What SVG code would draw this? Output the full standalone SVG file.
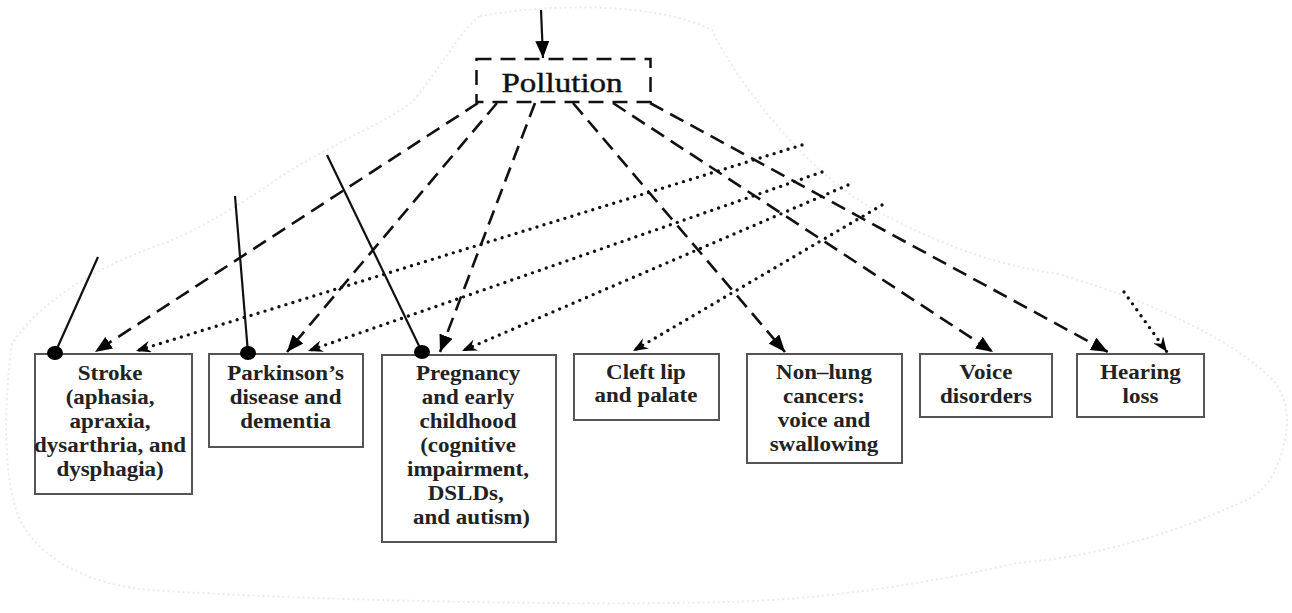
<svg xmlns="http://www.w3.org/2000/svg" width="1292" height="613" viewBox="0 0 1292 613">
<style>
.bg{fill:#fff}
.cloud{fill:none;stroke:#ebebeb;stroke-width:2;stroke-dasharray:2 3}
.box{fill:#fff;stroke:#555;stroke-width:2}
.pbox{fill:#fff;stroke:#111;stroke-width:2.5;stroke-dasharray:15 9}
.lbl{font-family:"Liberation Serif","Times New Roman",serif;font-size:20px;font-weight:bold;fill:#222;text-anchor:middle}
.plbl{font-family:"Liberation Serif","Times New Roman",serif;font-size:28px;fill:#111;stroke:#111;stroke-width:0.4;text-anchor:middle}
.dash{fill:none;stroke:#111;stroke-width:2.6;stroke-dasharray:15 8;marker-end:url(#tri)}
.dot{fill:none;stroke:#111;stroke-width:3.4;stroke-linecap:round;stroke-dasharray:0 7.3;marker-end:url(#barb)}
.solid{fill:none;stroke:#111;stroke-width:2.2}
.dotend{fill:#000}
</style>
<defs>
<marker id="tri" markerUnits="userSpaceOnUse" viewBox="0 0 17 14" refX="17" refY="7" markerWidth="17" markerHeight="14" orient="auto">
<path d="M0,0 L17,7 L0,14 Z" fill="#000"/>
</marker>
<marker id="barb" markerUnits="userSpaceOnUse" viewBox="0 0 15 12" refX="15" refY="6" markerWidth="15" markerHeight="12" orient="auto">
<path d="M0,0 L15,6 L0,12 L5,6 Z" fill="#000"/>
</marker>
</defs>
<rect class="bg" x="0" y="0" width="1292" height="613"/>
<path class="cloud" d="M480,16 C560,2 660,4 712,30 C730,70 800,170 877,211 C950,250 1000,265 1058,274 C1150,300 1230,340 1264,372 C1295,395 1292,440 1270,480 C1255,500 1243,501 1200,520 C1120,550 1060,560 1017,563 C900,590 800,600 728,602 C560,606 300,600 150,590 C90,585 40,560 20,520 C2,480 4,400 12,344 C40,300 100,265 165,243 C220,220 260,190 288,172 C340,140 390,120 412,102 C440,70 460,30 480,16 Z"/>
<g id="connectors">
<line class="solid" x1="541" y1="10" x2="543" y2="58" marker-end="url(#tri)"/>
<line class="dot" x1="802" y1="145" x2="136" y2="351"/>
<line class="dot" x1="822" y1="172" x2="308" y2="351"/>
<line class="dot" x1="848" y1="185" x2="462" y2="351"/>
<line class="dot" x1="882" y1="205" x2="633" y2="351"/>
<line class="dot" x1="1124" y1="292" x2="1167" y2="352"/>
<line class="dash" x1="478" y1="103" x2="95" y2="352"/>
<line class="dash" x1="497" y1="103" x2="287" y2="352"/>
<line class="dash" x1="535" y1="103" x2="440" y2="352"/>
<line class="dash" x1="573" y1="103" x2="785" y2="352"/>
<line class="dash" x1="613" y1="103" x2="993" y2="352"/>
<line class="dash" x1="650" y1="103" x2="1108" y2="352"/>
<line class="solid" x1="98" y1="257" x2="55" y2="353"/>
<line class="solid" x1="235" y1="196" x2="248" y2="353"/>
<line class="solid" x1="327" y1="155" x2="422" y2="352"/>
</g>
<g id="pollution">
<rect class="pbox" x="476.5" y="59" width="174" height="43"/>
<g transform="scale(1.18,1)"><text class="plbl" x="476.3" y="92">Pollution</text></g>
</g>
<g id="stroke">
<rect class="box" x="35" y="354" width="157" height="140"/>
<g transform="scale(1.15,1)"><text class="lbl" y="380"><tspan x="95.7">Stroke</tspan><tspan x="95.7" y="404">(aphasia,</tspan><tspan x="95.7" y="428">apraxia,</tspan><tspan x="95.7" y="452">dysarthria, and</tspan><tspan x="95.7" y="476">dysphagia)</tspan></text></g>
</g>
<g id="parkinsons">
<rect class="box" x="209" y="354" width="154" height="93"/>
<g transform="scale(1.15,1)"><text class="lbl" y="380"><tspan x="248.3">Parkinson’s</tspan><tspan x="248.3" y="404">disease and</tspan><tspan x="248.3" y="428">dementia</tspan></text></g>
</g>
<g id="pregnancy">
<rect class="box" x="382" y="355" width="174" height="187"/>
<g transform="scale(1.15,1)"><text class="lbl" y="380"><tspan x="407">Pregnancy</tspan><tspan x="407" y="404">and early</tspan><tspan x="407" y="428">childhood</tspan><tspan x="407" y="452">(cognitive</tspan><tspan x="407" y="476">impairment,</tspan><tspan x="405" y="500">DSLDs,</tspan><tspan x="410" y="524">and autism)</tspan></text></g>
</g>
<g id="cleft">
<rect class="box" x="574" y="354" width="145" height="66"/>
<g transform="scale(1.15,1)"><text class="lbl" y="379"><tspan x="561.7">Cleft lip</tspan><tspan x="561.7" y="402">and palate</tspan></text></g>
</g>
<g id="nonlung">
<rect class="box" x="747" y="354" width="155" height="109"/>
<g transform="scale(1.15,1)"><text class="lbl" y="379"><tspan x="716.5">Non–lung</tspan><tspan x="716.5" y="403">cancers:</tspan><tspan x="716.5" y="427">voice and</tspan><tspan x="716.5" y="451">swallowing</tspan></text></g>
</g>
<g id="voice">
<rect class="box" x="920" y="354" width="132" height="63"/>
<g transform="scale(1.15,1)"><text class="lbl" y="379"><tspan x="857.4">Voice</tspan><tspan x="857.4" y="403">disorders</tspan></text></g>
</g>
<g id="hearing">
<rect class="box" x="1077" y="354" width="127" height="63"/>
<g transform="scale(1.15,1)"><text class="lbl" y="379"><tspan x="991.7">Hearing</tspan><tspan x="991.7" y="403">loss</tspan></text></g>
</g>
<g id="endpoints">
<ellipse class="dotend" cx="55" cy="353" rx="8" ry="7"/>
<ellipse class="dotend" cx="248" cy="353" rx="8" ry="7"/>
<ellipse class="dotend" cx="422" cy="352" rx="8" ry="7"/>
</g>
</svg>
